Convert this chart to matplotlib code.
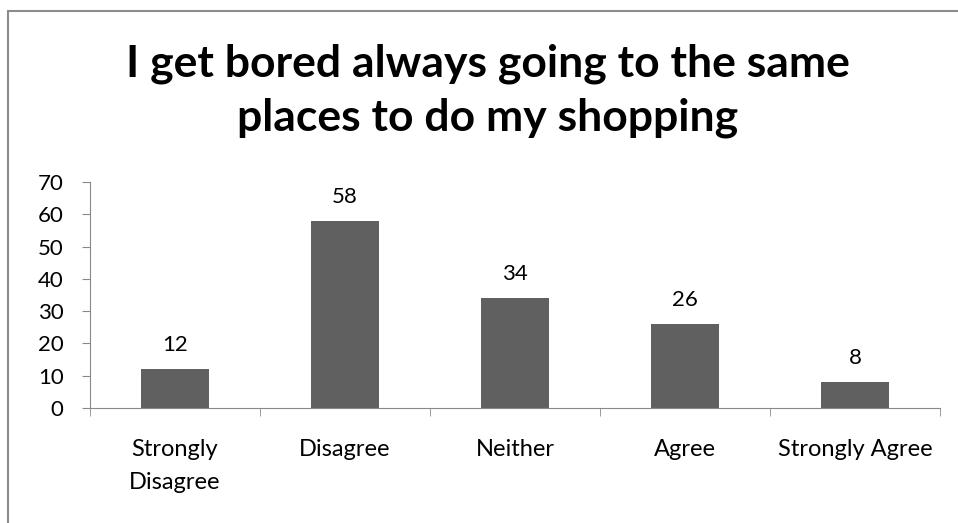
import matplotlib
matplotlib.use("Agg")
from matplotlib import pyplot as plt
from matplotlib.patches import Rectangle
import numpy as np

title_lines = ["I get bored always going to the same", "places to do my shopping"]
categories = ["Strongly\nDisagree", "Disagree", "Neither", "Agree", "Strongly Agree"]
counts = [12, 58, 34, 26, 8]
yticks = [0, 10, 20, 30, 40, 50, 60, 70]

plt.rcParams['font.family'] = ['Lato', 'DejaVu Sans']
axis_grey = '#898989'
bar_grey = '#606060'

W, H = 958, 523
fig = plt.figure(figsize=(W/100, H/100), dpi=100)

# chart frame (only left and top edges fall inside the image)
fig.patches.append(Rectangle((8/W, -0.1), 1.2, 1.1 - 11/H, transform=fig.transFigure,
                             fill=False, edgecolor='#8c8c8c', linewidth=1.5))

ax = fig.add_axes([90/W, 1 - 408/H, 850/W, 226/H])
x = np.arange(len(categories))
ax.bar(x, counts, width=0.4, color=bar_grey)
for xi, v in zip(x, counts):
    ax.annotate(str(v), (xi, v), xytext=(0, 13), textcoords='offset points',
                ha='center', va='baseline', fontsize=16)

ax.set_xlim(-0.5, len(categories) - 0.5)
ax.set_ylim(0, 70)
ax.set_yticks(yticks)
ax.tick_params(axis='y', length=6, color=axis_grey, labelsize=16, pad=13)

# category labels centred, tick marks on the boundaries between categories
ax.set_xticks(x)
ax.set_xticklabels(categories, fontsize=17, linespacing=1.75)
ax.tick_params(axis='x', which='major', length=0, pad=22)
ax.set_xticks(np.arange(len(categories) + 1) - 0.5, minor=True)
ax.tick_params(axis='x', which='minor', length=6, color=axis_grey, direction='out')
for lbl in ax.get_xticklabels():
    lbl.set_verticalalignment('top')

for side in ['top', 'right']:
    ax.spines[side].set_visible(False)
ax.spines['left'].set_color(axis_grey)
ax.spines['bottom'].set_color(axis_grey)

for line, base in zip(title_lines, [76, 131]):
    fig.text(488/W, 1 - base/H, line, ha='center', va='baseline', fontsize=32,
             fontweight='bold')

fig.savefig("out.png", dpi=100)
